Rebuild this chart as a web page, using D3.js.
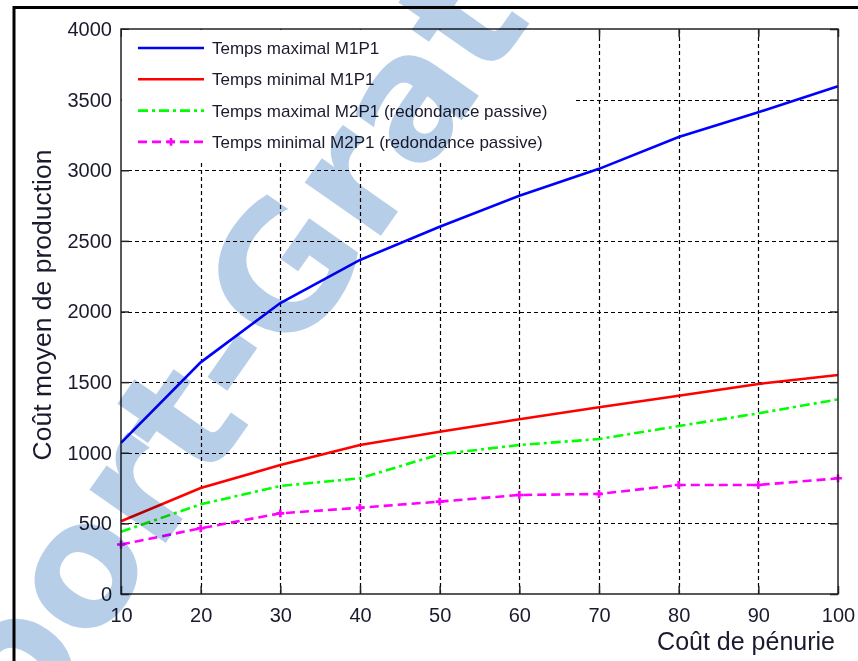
<!DOCTYPE html>
<html>
<head>
<meta charset="utf-8">
<script src="https://cdn.jsdelivr.net/npm/d3@7"></script>
<style>
  html, body { margin: 0; padding: 0; background: #fff; }
  svg { display: block; font-family: "Liberation Sans", Arial, sans-serif; }
</style>
</head>
<body>
<svg id="chart" width="858" height="661"></svg>
<script>
// Shortage cost on the x axis
const costs = [10, 20, 30, 40, 50, 60, 70, 80, 90, 100];
// Average production cost for each scenario
const maxM1P1 = [1070, 1640, 2060, 2365, 2600, 2820, 3010, 3235, 3410, 3595];
const minM1P1 = [515, 750, 913, 1055, 1149, 1237, 1322, 1404, 1487, 1550];
const maxM2P1 = [440, 635, 765, 819, 989, 1055, 1097, 1189, 1279, 1378];
const minM2P1 = [350, 465, 571, 611, 654, 701, 708, 772, 772, 819];

const seriesNames = [
  "Temps maximal M1P1",
  "Temps minimal M1P1",
  "Temps maximal M2P1 (redondance passive)",
  "Temps minimal M2P1 (redondance passive)"
];
const xTicks = [10, 20, 30, 40, 50, 60, 70, 80, 90, 100];
const yTicks = [0, 500, 1000, 1500, 2000, 2500, 3000, 3500, 4000];

const series = [
  { name: seriesNames[0], values: maxM1P1, color: "#0000ff", dash: null, marker: false },
  { name: seriesNames[1], values: minM1P1, color: "#ff0000", dash: null, marker: false },
  { name: seriesNames[2], values: maxM2P1, color: "#00ff00", dash: "10,4,3,4", marker: false },
  { name: seriesNames[3], values: minM2P1, color: "#ff00ff", dash: "9,5", marker: true }
];

const svg = d3.select("#chart");
const plot = { left: 121, right: 838, top: 29, bottom: 594 };

const x = d3.scaleLinear().domain([10, 100]).range([plot.left, plot.right]);
const y = d3.scaleLinear().domain([0, 4000]).range([plot.bottom, plot.top]);

// Figure frame (top and left edges)
svg.append("path")
  .attr("d", "M14,661 V7.5 H858")
  .attr("fill", "none").attr("stroke", "#000").attr("stroke-width", 3);

// Dashed grid
const grid = svg.append("g").attr("stroke", "#000").attr("stroke-width", 1.2)
  .attr("stroke-dasharray", "4,3");
grid.selectAll("line.v").data(xTicks.slice(1, -1)).join("line")
  .attr("x1", d => Math.round(x(d)) + 0.5).attr("x2", d => Math.round(x(d)) + 0.5)
  .attr("y1", plot.bottom).attr("y2", plot.top);
grid.selectAll("line.h").data(yTicks.slice(1, -1)).join("line")
  .attr("y1", d => Math.round(y(d)) + 0.5).attr("y2", d => Math.round(y(d)) + 0.5)
  .attr("x1", plot.left).attr("x2", plot.right);

// Axes with inward ticks on all four sides
const tickLen = 8;
const axisStyle = g => {
  g.select(".domain").remove();
  g.selectAll(".tick line").attr("stroke", "#222").attr("stroke-width", 1.5);
  g.selectAll(".tick text").attr("fill", "#1a1a2e").style("font-size", "20px")
    .style("font-family", "'Liberation Sans', Arial, sans-serif");
};
svg.append("g").attr("transform", `translate(0,${plot.bottom})`)
  .call(d3.axisBottom(x).tickValues(xTicks).tickSize(-tickLen).tickPadding(14).tickFormat(d3.format("d")))
  .call(axisStyle);
svg.append("g").attr("transform", `translate(${plot.left},0)`)
  .call(d3.axisLeft(y).tickValues(yTicks).tickSize(-tickLen).tickPadding(9).tickFormat(d3.format("d")))
  .call(axisStyle);
svg.append("g").attr("transform", `translate(0,${plot.top})`)
  .call(d3.axisTop(x).tickValues(xTicks).tickSize(-tickLen).tickFormat(""))
  .call(axisStyle);
svg.append("g").attr("transform", `translate(${plot.right},0)`)
  .call(d3.axisRight(y).tickValues(yTicks).tickSize(-tickLen).tickFormat(""))
  .call(axisStyle);

// Series lines
const line = d3.line().x((d, i) => x(costs[i])).y(d => y(d));
series.forEach(s => {
  svg.append("path").datum(s.values)
    .attr("d", line)
    .attr("fill", "none")
    .attr("stroke", s.color)
    .attr("stroke-width", 2.6)
    .attr("stroke-dasharray", s.dash);
  if (s.marker) {
    svg.append("g").selectAll("path").data(s.values).join("path")
      .attr("transform", (d, i) => `translate(${x(costs[i])},${y(d)})`)
      .attr("d", d3.symbol(d3.symbolCross, 34))
      .attr("fill", s.color);
  }
});

// Legend box
const legend = svg.append("g");
legend.append("rect")
  .attr("x", plot.left + 1).attr("y", plot.top + 1)
  .attr("width", 451).attr("height", 132)
  .attr("fill", "#fff");
series.forEach((s, i) => {
  const ly = 48 + i * 31.3;
  legend.append("line")
    .attr("x1", 138).attr("x2", 204).attr("y1", ly).attr("y2", ly)
    .attr("stroke", s.color).attr("stroke-width", 2.6)
    .attr("stroke-dasharray", s.dash);
  if (s.marker) {
    legend.append("path").attr("transform", `translate(171,${ly})`)
      .attr("d", d3.symbol(d3.symbolCross, 34)).attr("fill", s.color);
  }
  legend.append("text")
    .attr("x", 212).attr("y", ly + 6)
    .attr("fill", "#1a1a2e")
    .style("font-size", "17px")
    .text(s.name);
});

// Plot box
svg.append("rect")
  .attr("x", plot.left).attr("y", plot.top)
  .attr("width", plot.right - plot.left).attr("height", plot.bottom - plot.top)
  .attr("fill", "none").attr("stroke", "#222").attr("stroke-width", 1.5);

// Axis titles
svg.append("text")
  .attr("x", 835).attr("y", 650)
  .attr("text-anchor", "end")
  .attr("fill", "#1a1a2e")
  .style("font-size", "25px")
  .text("Coût de pénurie");
svg.append("text")
  .attr("transform", "translate(51,305) rotate(-90)")
  .attr("text-anchor", "middle")
  .attr("fill", "#1a1a2e")
  .style("font-size", "26.5px")
  .text("Coût moyen de production");

// Watermark laid over the figure
svg.append("text")
  .attr("transform", "translate(-190,1051) rotate(-55)")
  .attr("fill", "#b7cee8")
  .style("mix-blend-mode", "multiply")
  .style("font-family", "'DejaVu Sans', sans-serif")
  .style("font-size", "170px")
  .style("font-weight", "bold")
  .text("Rapport-Gratuit.com");
</script>
</body>
</html>
